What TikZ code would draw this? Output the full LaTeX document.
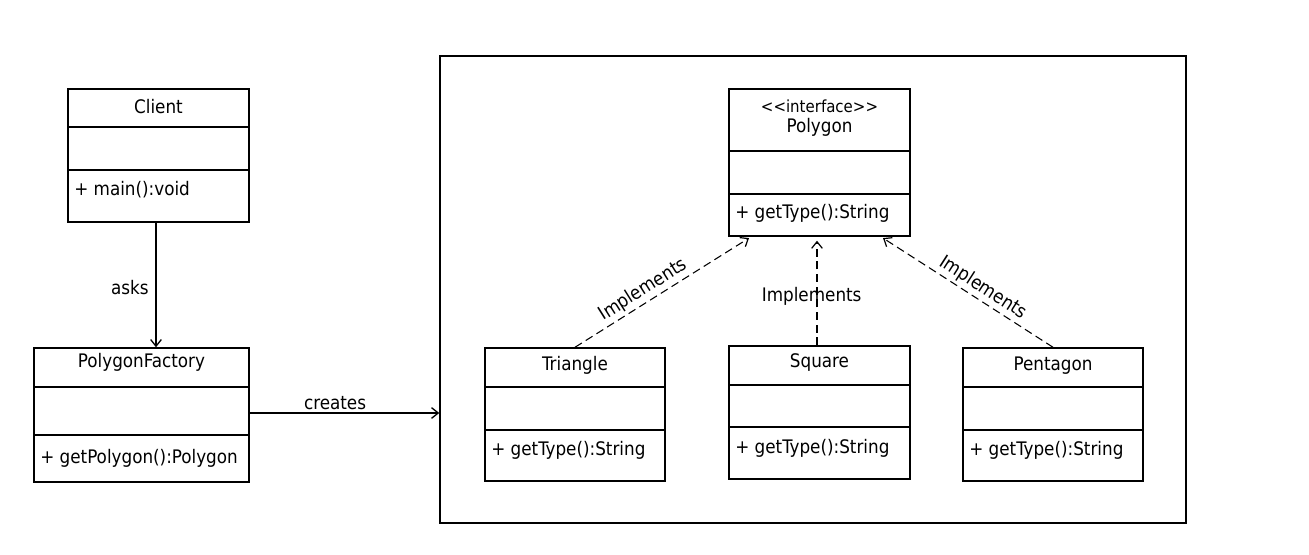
\documentclass[tikz,border=0pt]{standalone}
\usepackage{fontspec}
\setmainfont{DejaVu Sans Condensed}
\usetikzlibrary{arrows.meta,fit}
\begin{document}
\begin{tikzpicture}[x=0.75pt,y=-0.75pt,
  every node/.style={font=\fontsize{14}{16}\selectfont},
  cls/.style={draw, line width=1.1pt, inner sep=0pt},
  divider/.style={line width=1.1pt},
  txt/.style={inner sep=0pt, anchor=center},
  mtxt/.style={inner sep=0pt, anchor=west},
  arr/.style={line width=1pt, -{Straight Barb[length=5pt,width=8pt,line width=1pt]}},
  impl/.style={line width=0.8pt, dash pattern=on 6pt off 3.5pt, -{Straight Barb[length=5pt,width=8pt,line width=0.9pt]}},
  lbl/.style={inner sep=2pt}]
\useasboundingbox (0,0) rectangle (1309,555);

% frame
\node[cls, fit={(440,56) (1186,523)}] (frame) {};

% Client
\node[cls, fit={(68,89) (249,222)}] (client) {};
\draw[divider] (68,127) -- (249,127);
\draw[divider] (68,170) -- (249,170);
\node[txt] (clientT) at (158.5,107) {Client};
\node[mtxt] (clientM) at (74,190) {+ main():void};

% PolygonFactory
\node[cls, fit={(34,348) (249,482)}] (factory) {};
\draw[divider] (34,387) -- (249,387);
\draw[divider] (34,435) -- (249,435);
\node[txt] (factoryT) at (141.5,362) {PolygonFactory};
\node[mtxt] (factoryM) at (40,458) {+ getPolygon():Polygon};

% Polygon
\node[cls, fit={(729,89) (910,236)}] (polygon) {};
\draw[divider] (729,151) -- (910,151);
\draw[divider] (729,194) -- (910,194);
\node[txt] (polygonS) at (819.5,106) {\fontsize{12.5}{14}\selectfont <{}<interface>{}>};
\node[txt] (polygonT) at (819.5,127) {Polygon};
\node[mtxt] (polygonM) at (735,213) {+ getType():String};

% Triangle
\node[cls, fit={(485,348) (665,481)}] (triangle) {};
\draw[divider] (485,387) -- (665,387);
\draw[divider] (485,430) -- (665,430);
\node[txt] (triangleT) at (575,365) {Triangle};
\node[mtxt] (triangleM) at (491,450) {+ getType():String};

% Square
\node[cls, fit={(729,346) (910,479)}] (square) {};
\draw[divider] (729,385) -- (910,385);
\draw[divider] (729,427) -- (910,427);
\node[txt] (squareT) at (819.5,363) {Square};
\node[mtxt] (squareM) at (735,448) {+ getType():String};

% Pentagon
\node[cls, fit={(963,348) (1143,481)}] (pentagon) {};
\draw[divider] (963,387) -- (1143,387);
\draw[divider] (963,430) -- (1143,430);
\node[txt] (pentagonT) at (1053,366) {Pentagon};
\node[mtxt] (pentagonM) at (969,450) {+ getType():String};

% helper coordinates
\coordinate (ax) at (156,0);
\coordinate (cy) at (0,413);
\coordinate (pl) at (749,0);
\coordinate (pm) at (817,0);
\coordinate (pr) at (883,0);

% asks
\draw[arr] (client.south -| ax) -- node[lbl, left, pos=0.52, xshift=-3pt] {asks} (factory.north -| ax);
% creates
\draw[arr] (factory.east |- cy) -- node[lbl, above, pos=0.45] {creates} (frame.west |- cy);

% implements
\draw[impl] (triangle.north) -- node[lbl, sloped, above, pos=0.43] {Implements} ([yshift=-1pt]polygon.south -| pl);
\draw[impl] (square.north -| pm) -- node[lbl, pos=0.47, xshift=-4pt] {Implements} ([yshift=-3pt]polygon.south -| pm);
\draw[impl] (pentagon.north) -- node[lbl, sloped, above, pos=0.45] {Implements} ([yshift=-1pt]polygon.south -| pr);
\end{tikzpicture}
\end{document}
